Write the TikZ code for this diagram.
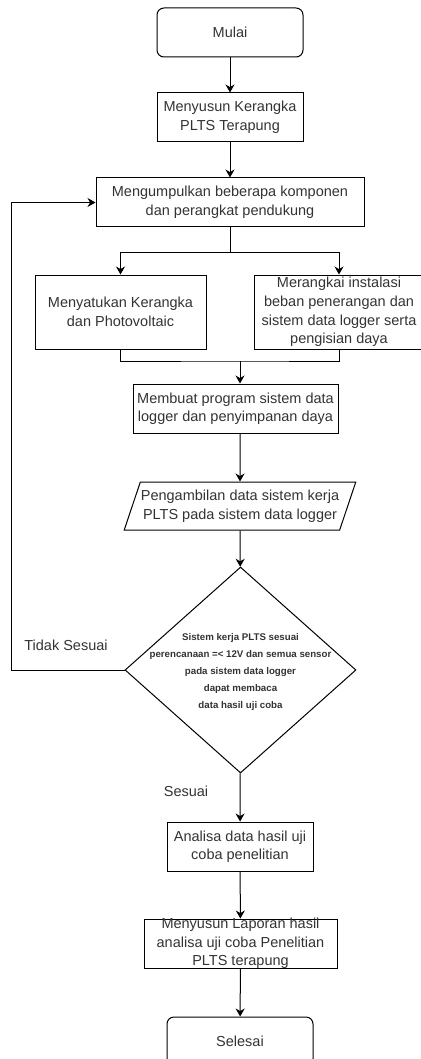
\documentclass[tikz,border=0pt]{standalone}
\usepackage{fontspec}
\setmainfont{Liberation Sans}
\usetikzlibrary{shapes.geometric,arrows.meta}

\begin{document}
\begin{tikzpicture}[x=1pt, y=-1pt, >={Stealth[length=8pt,width=9pt]},
    line width=1pt, font=\fontsize{14.5}{18.5}\selectfont,
    txt/.style={text=black!80},
    box/.style={draw, rectangle, inner sep=0pt, align=center, text=black!80},
    term/.style={box, rounded corners=7pt},
    io/.style={draw, trapezium, trapezium left angle=63.4, trapezium right angle=116.6,
        trapezium stretches=true, inner sep=0pt, align=center, text=black!80},
    cond/.style={draw, diamond, inner sep=0pt},
    small/.style={align=center, text=black!80, font=\fontsize{9.7}{17}\selectfont\bfseries}]
    \useasboundingbox (0,0) rectangle (420,1059);

    \node[term, minimum width=146, minimum height=49] (start) at (230,32.5) {Mulai};
    \node[box, minimum width=146, minimum height=49] (frame) at (230,117.5) {Menyusun Kerangka\\PLTS Terapung};
    \node[box, minimum width=268, minimum height=49] (collect) at (230,202.5) {Mengumpulkan beberapa komponen\\dan perangkat pendukung};

    \node[box, minimum width=171, minimum height=74] (assemble) at (120.5,312) {Menyatukan Kerangka\\dan Photovoltaic};
    \node[box, minimum width=170, minimum height=74] (install) at (339,312) {Merangkai instalasi\\beban penerangan dan\\sistem data logger serta\\pengisian daya};

    \node[box, minimum width=205, minimum height=49] (program) at (235.5,408.5) {Membuat program sistem data\\logger dan penyimpanan daya};
    \node[io, minimum width=232, minimum height=48] (data) at (240,506) {Pengambilan data sistem kerja\\PLTS pada sistem data logger};

    \node[cond, minimum width=231, minimum height=206] (dec) at (240.5,670) {};
    \node[small] (dectext) at (240.5,671.5) {Sistem kerja PLTS sesuai\\perencanaan =< 12V dan semua sensor\\pada sistem data logger\\dapat membaca\\data hasil uji coba};

    \node[box, minimum width=146, minimum height=49] (analyze) at (240,846.5) {Analisa data hasil uji\\coba penelitian};
    \node[box, minimum width=193, minimum height=49,
        label={[align=center, text=black!80]center:Menyusun Laporan hasil\\analisa uji coba Penelitian\\PLTS terapung}] (report) at (240.5,943.5) {};
    \node[term, minimum width=146, minimum height=49] (finish) at (240,1041.5) {Selesai};

    \node[txt] (no) at (66,645) {Tidak Sesuai};
    \node[txt] (yes) at (186,791) {Sesuai};

    \draw[->] (start) -- (frame);
    \draw[->] (frame) -- (collect);
    \draw (collect.south) -- ++(0,25) coordinate (split);
    \draw[->] (split) -| (assemble.north);
    \draw[->] (split) -| (install.north);
    \coordinate (merge) at (240,361);
    \draw (assemble.south) |- (merge) -| (install.south);
    \draw[->] (merge) -- (merge |- program.north);
    \draw[->] (merge |- program.south) -- (data.north);
    \draw[->] (data) -- (dec);
    \draw[->] (dec) -- (analyze);
    \draw[->] (analyze) -- (report);
    \draw[->] (report) -- (finish);

    \coordinate (back) at (11,670);
    \draw[->] (dec.west) -- (back) |- (collect.west);
\end{tikzpicture}
\end{document}
